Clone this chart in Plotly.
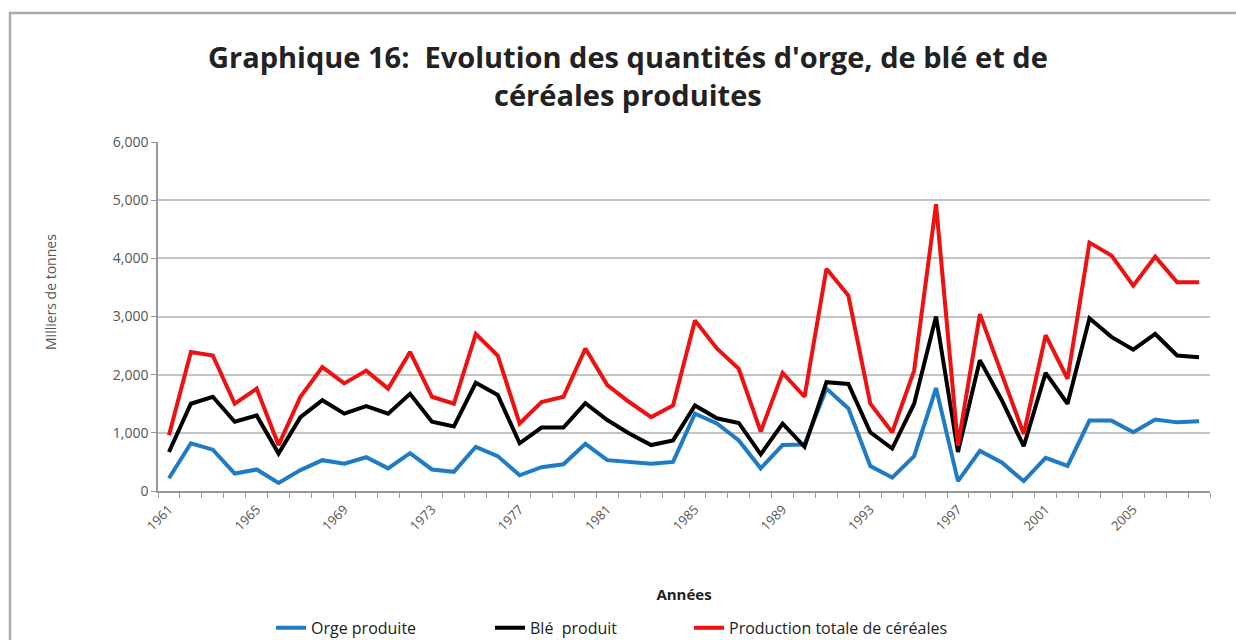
import plotly.graph_objects as go

years = list(range(1961, 2009))

orge = [220, 820, 710, 300, 370, 140, 360, 530, 470, 580, 390, 650, 370, 330, 760, 600,
        270, 410, 460, 810, 530, 500, 470, 500, 1330, 1160, 870, 390, 790, 800,
        1760, 1420, 430, 230, 600, 1770, 170, 690, 490, 170, 570, 430, 1210, 1210,
        1010, 1230, 1180, 1200]

ble = [670, 1500, 1620, 1190, 1300, 645, 1270, 1560, 1330, 1460, 1330, 1670, 1190, 1110, 1860, 1650,
       820, 1090, 1090, 1510, 1220, 990, 790, 870, 1470, 1250, 1170, 630, 1160, 760,
       1870, 1840, 1010, 730, 1500, 3000, 670, 2250, 1560, 770, 2030, 1500, 2970, 2650,
       2430, 2700, 2330, 2300]

total = [960, 2390, 2330, 1500, 1760, 790, 1620, 2130, 1850, 2070, 1760, 2390, 1620, 1500, 2700, 2330,
         1160, 1530, 1620, 2450, 1820, 1530, 1270, 1470, 2930, 2450, 2100, 1020, 2030, 1620,
         3820, 3360, 1500, 1010, 2070, 4930, 780, 3040, 2010, 980, 2680, 1930, 4270, 4050,
         3530, 4030, 3590, 3590]

series_names = ["Orge produite", "Blé  produit", "Production totale de céréales"]
colors = ["#1f7bc4", "#000000", "#ee1111"]
legend_ids = ["legend", "legend2", "legend3"]
legend_left_px = [271, 490, 689]

FONT = "'Open Sans', Arial, sans-serif"

fig = go.Figure()
for name, vals, col, lg in zip(series_names, [orge, ble, total], colors, legend_ids):
    fig.add_trace(go.Scatter(x=years, y=vals, mode="lines", name=name, legend=lg,
                             line=dict(color=col, width=4)))

legend_common = dict(orientation="h", xanchor="left", xref="paper",
                     yref="container", y=0.019, yanchor="middle",
                     font=dict(size=16, color="#222222"))

fig.update_layout(
    width=1236, height=640,
    margin=dict(l=158, r=26, t=142, b=149),
    paper_bgcolor="white", plot_bgcolor="white",
    font=dict(family=FONT, color="#333333"),
    title=dict(text="<b>Graphique 16:  Evolution des quantités d'orge, de blé et de<br>céréales produites</b>",
               x=0.508, xanchor="center", y=0.893, yanchor="middle",
               font=dict(size=29, color="#222222", family=FONT)),
    showlegend=True,
    xaxis=dict(range=[1960.5, 2008.5], tickmode="linear", tick0=1961, dtick=4,
               tickangle=-45, tickfont=dict(size=13, color="#555555"), ticklabelstandoff=4,
               showgrid=False, zeroline=False, showline=True, linecolor="#999999", linewidth=1.5,
               ticks="", automargin=False,
               minor=dict(ticks="outside", tick0=1960.5, dtick=1, ticklen=5, tickcolor="#999999", showgrid=False),
               title=dict(text="<b>Années</b>", font=dict(size=15, color="#222222"), standoff=56)),
    yaxis=dict(range=[0, 6000], tickmode="linear", dtick=1000, tickformat=",",
               tickfont=dict(size=14, color="#555555"), automargin=False,
               showgrid=True, gridcolor="#c4c4c4", gridwidth=2, zeroline=False,
               showline=True, linecolor="#999999", linewidth=1.5, ticks="outside", ticklen=5, tickcolor="#999999"),
)
for lg, px in zip(legend_ids, legend_left_px):
    fig.update_layout({lg: dict(legend_common, x=(px - 158) / 1052)})

fig.add_annotation(text="Milliers de tonnes", xref="paper", yref="paper",
                   x=(50 - 158) / 1052, y=(491 - 292) / 349, textangle=-90,
                   showarrow=False, xanchor="center", yanchor="middle",
                   font=dict(size=14, color="#555555", family=FONT))

fig.add_shape(type="rect", xref="paper", yref="paper",
              x0=(10 - 158) / 1052, x1=1.1, y0=-0.6, y1=(491 - 13) / 349,
              line=dict(color="#aaaaaa", width=2.5), fillcolor="rgba(0,0,0,0)", layer="below")

fig.write_html("out.html", config={"displayModeBar": False},
               post_script="document.body.style.margin='0';document.body.style.overflow='hidden';")
